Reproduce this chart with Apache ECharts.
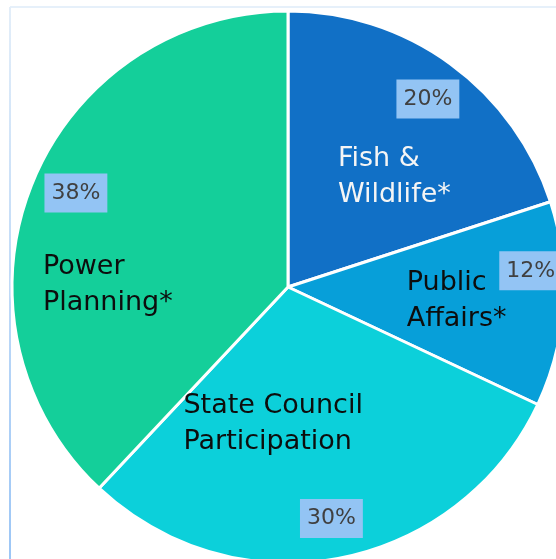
<!DOCTYPE html>
<html><head><meta charset="utf-8">
<script src="https://cdn.jsdelivr.net/npm/echarts@6/dist/echarts.min.js"></script>
<style>html,body{margin:0;padding:0;background:#fff;overflow:hidden}#c{width:556px;height:559px}</style>
</head><body><div id="c"></div>
<script>
// ---- data ----
const categories = ['Fish &\nWildlife*', 'Public\nAffairs*', 'State Council\nParticipation', 'Power\nPlanning*'];
const shares = [20, 12, 30, 38];

// ---- styles / label placement (offsets from the default inside label anchor) ----
const sliceColors = ['#1170C6', '#079FD9', '#0CD0DA', '#14CF9A'];
const nameColors = ['#F5F5F5', '#0D0D0D', '#0D0D0D', '#0D0D0D'];
const nameOffsets = [[-33, 4], [-22, 5], [-131, -2], [-114, 50]];
const pctOffsets = [[57, -74], [102, -25], [17, 93], [-81, -42]];

const FONT = 'DejaVu Sans';
const chart = echarts.init(document.getElementById('c'), null, {renderer: 'canvas'});

const nameData = categories.map((n, i) => ({
  name: n, value: shares[i],
  itemStyle: {color: sliceColors[i]},
  label: {color: nameColors[i]}
}));
const pctData = categories.map((n, i) => ({name: n, value: shares[i]}));

const common = {
  type: 'pie',
  center: [288, 287],
  radius: [0, 276],
  startAngle: 90,
  clockwise: true,
  avoidLabelOverlap: false,
  labelLine: {show: false},
  emphasis: {disabled: true}
};

chart.setOption({
  animation: false,
  backgroundColor: '#ffffff',
  graphic: [
    {type: 'line', shape: {x1: 10, y1: 7, x2: 556, y2: 7}, style: {stroke: '#E6F0FA', lineWidth: 2}, z: -1},
    {type: 'line', shape: {x1: 10, y1: 7, x2: 10, y2: 559},
     style: {stroke: new echarts.graphic.LinearGradient(0, 0, 0, 1, [{offset: 0, color: '#E3EEF9'}, {offset: 1, color: '#9CC6F6'}]), lineWidth: 2}, z: -1}
  ],
  series: [
    Object.assign({}, common, {
      name: 'slices',
      data: nameData,
      itemStyle: {borderColor: '#ffffff', borderWidth: 3},
      label: {
        show: true, position: 'inside', formatter: '{b}',
        fontFamily: FONT, fontSize: 27, lineHeight: 36, align: 'left'
      },
      labelLayout: function (p) {
        const o = nameOffsets[p.dataIndex];
        return {dx: o[0], dy: o[1], align: 'left', verticalAlign: 'middle'};
      }
    }),
    Object.assign({}, common, {
      name: 'percent',
      silent: true,
      data: pctData,
      itemStyle: {color: 'rgba(0,0,0,0)', borderWidth: 0},
      label: {
        show: true, position: 'inside', formatter: '{d}%',
        fontFamily: FONT, fontSize: 22, color: '#404040',
        backgroundColor: '#93C4F4', padding: [9, 7, 8, 7]
      },
      labelLayout: function (p) {
        const o = pctOffsets[p.dataIndex];
        return {dx: o[0], dy: o[1], align: 'center', verticalAlign: 'middle'};
      }
    })
  ]
});
</script></body></html>
